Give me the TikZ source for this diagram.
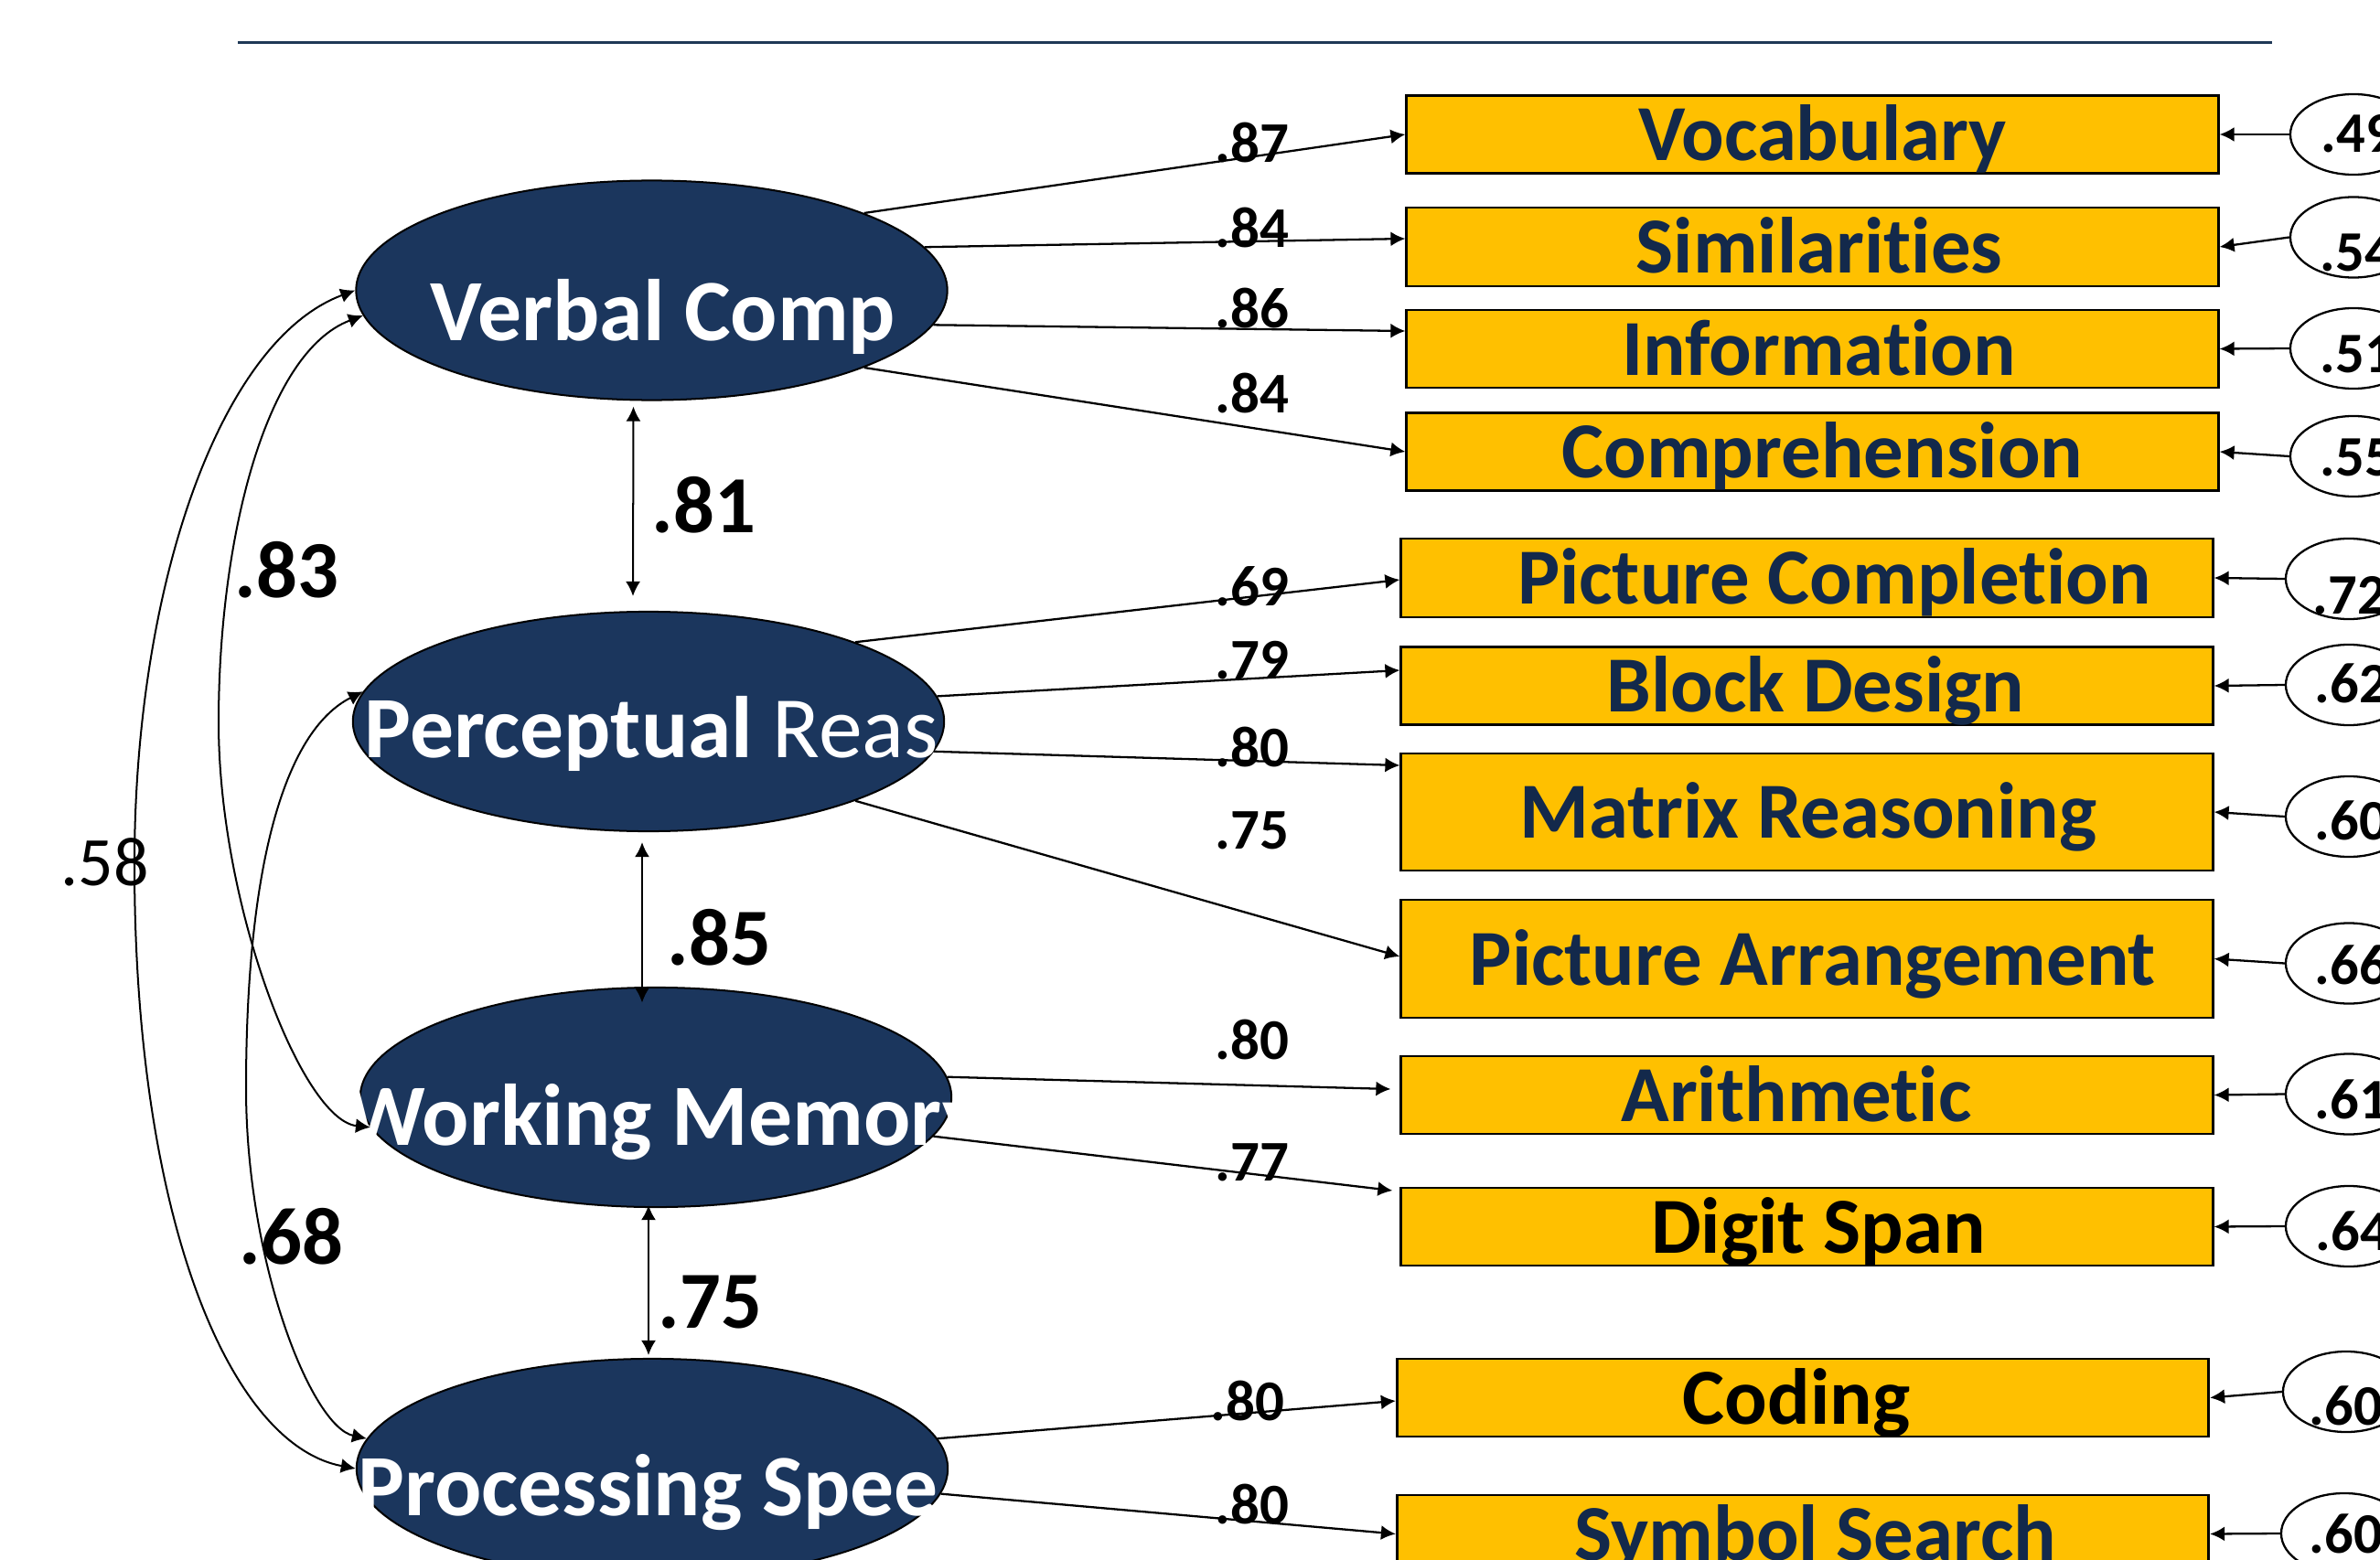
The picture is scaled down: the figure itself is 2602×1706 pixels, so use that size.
\documentclass[tikz,border=0pt]{standalone}
\usepackage{fontspec}
\setmainfont{Carlito}[Ligatures=NoCommon]
\usepackage{xcolor}
\usetikzlibrary{arrows.meta}
\usetikzlibrary{shapes.geometric}
\usetikzlibrary{calc}

\definecolor{navy}{RGB}{27,54,93}
\definecolor{boxnavy}{RGB}{19,41,75}
\definecolor{gold}{RGB}{255,192,0}
\definecolor{rulenavy}{RGB}{31,56,86}

\begin{document}
\begin{tikzpicture}[x=0.01cm, y=-0.01cm, >={Latex[length=0.16cm, width=0.16cm]},
    factor/.style={ellipse, draw=black, line width=0.57pt, fill=navy, minimum width=6.46cm, minimum height=2.4cm, inner sep=0pt},
    factorname/.style={anchor=base west, inner sep=0pt, text=white, font=\fontsize{27.2pt}{30pt}\selectfont\bfseries},
    subtest/.style={draw=black, line width=0.77pt, fill=gold, minimum width=8.87cm, minimum height=0.85cm, inner sep=0pt, text height=0.57cm, text depth=0pt, font=\fontsize{24.7pt}{26pt}\selectfont\bfseries},
    resid/.style={ellipse, draw=black, line width=0.65pt, fill=white, minimum width=1.38cm, minimum height=0.88cm, inner sep=0pt},
    residlabel/.style={anchor=base west, inner sep=0pt, font=\fontsize{17.8pt}{18pt}\selectfont\bfseries},
    loadlabel/.style={anchor=base west, inner sep=0pt, font=\fontsize{17.9pt}{18pt}\selectfont\bfseries},
    corrlabel/.style={anchor=base west, inner sep=0pt, font=\fontsize{25.2pt}{26pt}\selectfont\bfseries},
    loadarrow/.style={->, line width=0.65pt},
    covarrow/.style={<->, line width=0.57pt}]
    \useasboundingbox (0,0) rectangle (2602,1706);
    \clip (0,0) rectangle (2602,1706);

    % title rule
    \draw [rulenavy, line width=0.85pt] (260,46.7) -- (2484,46.7);

    % factor centres
    \coordinate (cvc) at (712.5,317.5);
    \coordinate (cpr) at (709,789);
    \coordinate (cwm) at (717,1200);
    \coordinate (cps) at (713,1606);

    % factors
    \node [factor] (vc) at (cvc) {};
    \node [factor] (pr) at (cpr) {};
    \node [factor] (wm) at (cwm) {};
    \node [factor] (ps) at (cps) {};
    \node [factorname] (vc-name) at (470,373) {Verbal Comp};
    \node [factorname] (pr-name) at (398,828) {Perceptual \mdseries Reas};
    \node [factorname] (wm-name) at (378,1252) {Working Memory};
    \node [factorname] (ps-name) at (391,1657) {Processing Spee};

    % subtests (last field: text offset in cm)
    \foreach \n/\x/\y/\h/\c/\t/\d in {
        voc/1981.5/147/0.85/boxnavy/Vocabulary/0.22,
        sim/1981.5/270/0.86/boxnavy/Similarities/0.15,
        inf/1981.5/381.5/0.85/boxnavy/Information/0.14,
        comp/1981.5/494/0.85/boxnavy/Comprehension/0.22,
        pc/1975.5/632/0.86/boxnavy/Picture Completion/0.6,
        bd/1975.5/750/0.85/boxnavy/Block Design/0.19,
        mr/1975.5/888/1.28/boxnavy/Matrix Reasoning/0.03,
        pa/1975.5/1048.5/1.29/boxnavy/Picture Arrangement/0.13,
        arith/1975.5/1197.5/0.85/boxnavy/Arithmetic/-0.23,
        ds/1975.5/1341.5/0.85/black/Digit Span/0.25,
        coding/1971/1528.5/0.85/black/Coding/-0.14,
        ss/1971/1677.5/0.85/boxnavy/Symbol Search/0.28}
        \node [subtest, minimum height=\h cm, text=\c] (\n) at (\x,\y) {\hspace*{\d cm}\t};

    % error terms
    \foreach \n/\x/\y in {voc/2573/147, sim/2573/259.5, inf/2573/381, comp/2573/499,
        pc/2568/633, bd/2568/749, mr/2568/893, pa/2568/1053.5, arith/2568/1196.5,
        ds/2568/1341, coding/2565/1522, ss/2563/1677}{
        \node [resid] (e\n) at (\x,\y) {};
        \draw [loadarrow] (e\n.west) -- (\n.east);
    }
    \foreach \n/\x/\y/\v in {voc/2537/167/.49, sim/2536/297/.54, inf/2536/407/.51,
        comp/2536/520/.55, pc/2528/671/.72, bd/2530/768/.62, mr/2530/918/.60,
        pa/2530/1076/.66, arith/2530/1223/.61, ds/2531/1367/.64,
        coding/2524/1558/.60, ss/2524/1698/.60}
        \node [residlabel] (r\n) at (\x,\y) {\v};

    % loadings
    \draw [loadarrow] (vc.20) -- (voc.west);
    \draw [loadarrow] (vc.9) -- ($(sim.west)+(0,-9)$);
    \draw [loadarrow] (vc.353) -- ($(inf.west)+(0,-19.5)$);
    \draw [loadarrow] (vc.340) -- (comp.west);
    \draw [loadarrow] (pr.21) -- ($(pc.west)+(0,2)$);
    \draw [loadarrow] (pr.5) -- ($(bd.west)+(0,-17)$);
    \draw [loadarrow] (pr.354) -- ($(mr.west)+(0,-51)$);
    \draw [loadarrow] (pr.339) -- ($(pa.west)+(0,-2.5)$);
    \draw [loadarrow] (wm.4) -- ($(arith.west)+(-10,-6.5)$);
    \draw [loadarrow] (wm.352) -- ($(ds.west)+(-8,-39.5)$);
    \draw [loadarrow] (ps.6) -- ($(coding.west)+(0,3.5)$);
    \draw [loadarrow] (ps.355) -- (ss.west);
    \foreach \n/\x/\y/\v in {voc/1328/178/.87, sim/1328/271/.84, inf/1328/359/.86,
        comp/1328/452/.84, pc/1328/662/.69, bd/1328/742/.79, mr/1328/838/.80,
        pa/1328/928/.75, arith/1328/1158/.80, ds/1328/1291/.77,
        coding/1323/1553/.80, ss/1328/1666/.80}
        \node [loadlabel] (l\n) at (\x,\y) {\v};

    % factor correlations, neighbours
    \draw [covarrow] ($(vc.south)+(-20,6)$) -- ($(pr.north)+(-17,-16)$);
    \draw [covarrow] ($(pr.south)+(-7,11)$) -- ($(wm.north)+(-15,17.5)$);
    \draw [covarrow] ($(wm.south)+(-8,-3)$) -- ($(ps.north)+(-4,-3)$);
    \node [corrlabel] (c-vcpr) at (712,582) {.81};
    \node [corrlabel] (c-prwm) at (729,1055) {.85};
    \node [corrlabel] (c-wmps) at (719,1452) {.75};

    % factor correlations, curved
    \draw [covarrow] (vc.west) .. controls (239,373) and (147,645) .. (147,945)
        .. controls (147,1330) and (250,1580) .. (ps.west);
    \draw [covarrow] (vc.185) .. controls (290,385) and (239,590) .. (239,790)
        .. controls (239,990) and (330,1225) .. (wm.186);
    \draw [covarrow] (pr.174) .. controls (310,800) and (269,950) .. (269,1190)
        .. controls (269,1380) and (340,1560) .. (ps.174);
    \node [corrlabel] (c-vcwm) at (256,653) {.83};
    \node [corrlabel] (c-prps) at (261,1382) {.68};
    \node [corrlabel, font=\fontsize{21.6pt}{22pt}\selectfont] (c-vcps) at (66,968) {.58};
\end{tikzpicture}
\end{document}
